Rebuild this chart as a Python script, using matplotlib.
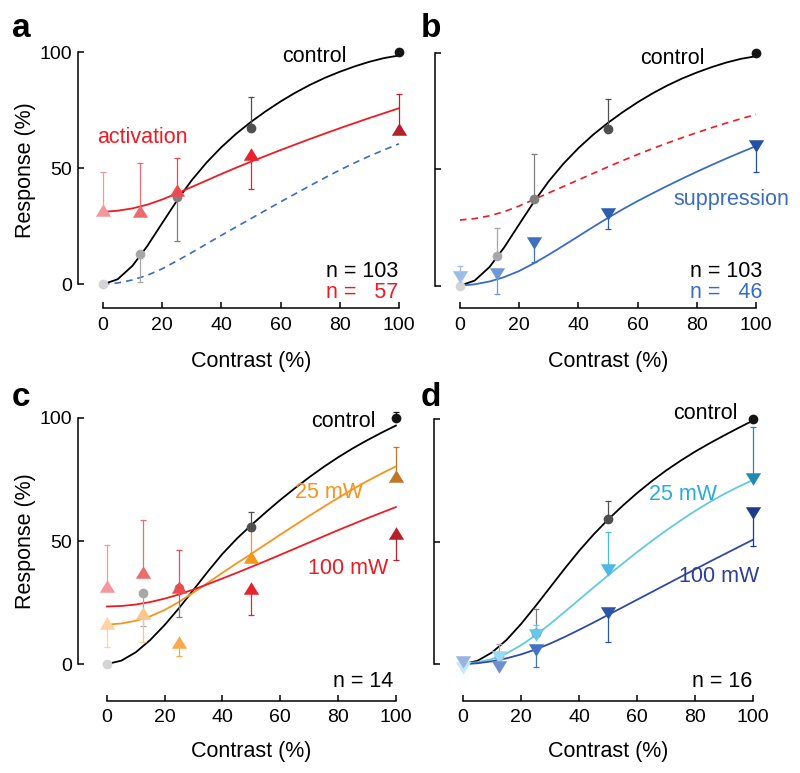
import matplotlib
matplotlib.use('Agg')
import matplotlib.pyplot as plt

plt.rcParams['font.family'] = ['Liberation Sans', 'DejaVu Sans']

W, H = 800, 773

# stimulus contrasts of the measured points
contrast = [0, 12.5, 25, 50, 100]
fit_x = [0, 5, 10, 15, 20, 25, 30, 35, 40, 45, 50, 55, 60, 65, 70, 75, 80, 85, 90, 95, 100]

# ---- panel a ----
a_ctrl = [0, 13, 37.4, 67.5, 100]
a_ctrl_end = [0, 1, 18.7, 80.7, 100]      # error bar ends
a_act = [32, 31.6, 40.5, 56, 67]
a_act_end = [48.4, 52.4, 54.6, 41.2, 82]
ctrl_fit_ab = [0, 2.2, 8, 16.5, 26.3, 36, 44.8, 52.4, 59, 64.8, 69.9, 74.5, 78.7, 82.5, 85.9, 88.9,
               91.5, 93.8, 95.8, 97.4, 98.5]
act_fit_a = [31.2, 31.7, 32.7, 34.3, 36.5, 39.1, 41.9, 44.7, 47.5, 50.2, 52.8, 55.3, 57.8, 60.2, 62.6,
             64.9, 67.2, 69.4, 71.6, 73.7, 75.8]
sup_fit_a = [0, 0.6, 1.9, 3.9, 6.7, 10.1, 13.7, 17.4, 21.1, 24.7, 28.3, 31.9, 35.5, 39, 42.5, 45.9,
             49.2, 52.3, 55.2, 57.9, 60.5]

# ---- panel b ----
b_ctrl = [0, 12.7, 37.2, 67.1, 100]
b_ctrl_end = [0, 24.6, 56.5, 80.3, 100]
b_sup = [3.6, 5, 18.5, 30.8, 60]
b_sup_end = [8.6, -3.7, 10.3, 24.2, 48.6]
act_fit_b = [28.2, 28.8, 30, 31.8, 34.2, 37, 39.8, 42.6, 45.4, 48.2, 51, 53.7, 56.3, 58.8, 61.2, 63.5,
             65.7, 67.8, 69.8, 71.7, 73.5]
sup_fit_b = [0, 0.6, 1.8, 3.7, 6.3, 9.6, 13.3, 17.2, 21.2, 25.2, 29.1, 32.8, 36.3, 39.6, 42.8, 45.9,
             48.9, 51.8, 54.6, 57.3, 59.9]

# ---- panel c ----
c_ctrl = [0, 28.9, 31, 55.7, 100]
c_ctrl_end = [0, 15.6, 19, 61.7, 102.5]
c_25 = [16.8, 20.7, 9, 43.4, 76.6]
c_25_end = [6.9, 9, 3.3, 54, 88]
c_100 = [31.6, 37.3, 31.3, 30.9, 53.3]
c_100_end = [48.2, 58.7, 46.5, 19.8, 42.4]
ctrl_fit_c = [0, 1.4, 4.8, 9.8, 15.9, 22.8, 30.2, 37.7, 44.8, 51, 56.5, 61.7, 66.7, 71.4, 75.9, 80.1,
              84, 87.6, 90.9, 94, 96.9]
p25_fit_c = [16, 16.5, 17.6, 19.4, 22, 25.3, 29.1, 33.1, 37.1, 41, 44.8, 48.7, 52.6, 56.4, 60.2, 63.9,
             67.5, 71, 74.3, 77.4, 80.3]
p100_fit_c = [23.4, 23.6, 24.2, 25.2, 26.6, 28.3, 30.3, 32.5, 34.8, 37.1, 39.5, 41.9, 44.4, 46.9, 49.4,
              51.9, 54.4, 56.8, 59.2, 61.5, 63.8]

# ---- panel d ----
d_ctrl = [0, 3.5, 12.7, 59.3, 100]
d_ctrl_end = [0, 8.2, 22.4, 66.4, 100]
d_25 = [-1.5, 3, 11.8, 38.5, 75.5]
d_25_end = [-1.5, 3, 16, 54.1, 96.7]
d_100 = [1, -1, 5.7, 20.8, 61.6]
d_100_end = [1, -1, -1, 9, 48.4]
ctrl_fit_d = [0, 1.4, 4.8, 9.9, 16.4, 23.7, 31.3, 38.9, 46.2, 52.9, 59, 64.6, 69.8, 74.6, 79, 83, 86.7,
              90.1, 93.3, 96.4, 99.4]
p25_fit_d = [0.3, 0.8, 2.1, 4.4, 7.7, 11.8, 16.4, 21.3, 26.3, 31.3, 36.2, 41, 45.7, 50.2, 54.5, 58.6,
             62.5, 66.1, 69.4, 72.4, 75.1]
p100_fit_d = [0, 0.4, 1.2, 2.4, 4, 6, 8.4, 11.1, 14, 17, 20.1, 23.2, 26.3, 29.4, 32.5, 35.6, 38.7,
              41.8, 44.8, 47.8, 50.8]

# point colours, light -> dark with contrast
grays = ['#d4d4d4', '#a7a7a7', '#808080', '#4f4f4f', '#141414']
reds = ['#f4989b', '#ee6b6f', '#ef4a4f', '#e8222a', '#b5202a']
oranges = ['#fdd3a4', '#fcc58b', '#f9a94a', '#f7941d', '#c0762a']
blues = ['#9dbce6', '#6f98d4', '#3f70c0', '#2d5eb0', '#2150a4']
cyans = ['#c3ecfa', '#97dbf3', '#66c7ed', '#4cb8e6', '#1f8bb4']
dblues = ['#9bb3e0', '#6d8fd0', '#4572c0', '#2a55a8', '#1d3a8c']

RED = '#ed1c24'
BLUE = '#3a6cc4'
ORANGE = '#f7941d'

up_tri = [(-1, -0.82), (1, -0.82), (0, 0.82)]
down_tri = [(-1, 0.82), (1, 0.82), (0, -0.82)]

fig = plt.figure(figsize=(8, 7.73), dpi=100)


def make_ax(left, bottom, width, height, xlim, ylim, ylabels):
    ax = fig.add_axes([left / W, 1 - bottom / H, width / W, height / H])
    ax.set_xlim(*xlim)
    ax.set_ylim(*ylim)
    ax.patch.set_visible(False)
    ax.spines['top'].set_visible(False)
    ax.spines['right'].set_visible(False)
    ax.spines['left'].set_bounds(0, 100)
    ax.spines['bottom'].set_bounds(0, 100)
    ax.spines['left'].set_linewidth(1.1)
    ax.spines['bottom'].set_linewidth(1.1)
    ax.set_xticks([0, 20, 40, 60, 80, 100])
    ax.set_yticks([0, 50, 100])
    ax.tick_params(direction='in', length=4, width=1.1, labelsize=14, pad=4.5)
    ax.tick_params(axis='x', pad=6)
    if not ylabels:
        ax.set_yticklabels([])
    return ax


def points(ax, ys, ends, colors, marker, ms):
    for x, y, e, c in zip(contrast, ys, ends, colors):
        if e != y:
            ax.plot([x, x], [y, e], color=c, lw=0.9, zorder=3, clip_on=False)
            ax.plot([x], [e], marker='_', ms=4.5, mew=0.9, color=c, zorder=3, clip_on=False)
        ax.plot([x], [y], marker=marker, ms=ms, color=c, mew=0, zorder=4, clip_on=False)


def curve(ax, ys, color, ls='-', lw=1.3):
    ax.plot(fit_x, ys, color=color, ls=ls, lw=lw, zorder=2, clip_on=False)


ax_a = make_ax(78, 308.3, 325.4, 258.6, (-8.4, 101.5), (-10.3, 101), True)
ax_b = make_ax(435, 308.3, 325.4, 257.9, (-8.4, 101.5), (-9.7, 101), False)
ax_c = make_ax(78, 701, 322.2, 285.5, (-10, 101.5), (-15, 101), True)
ax_d = make_ax(434, 701, 323.4, 284.4, (-10, 101.5), (-15, 101), False)

TRI = 11

# panel a
curve(ax_a, ctrl_fit_ab, 'black')
curve(ax_a, act_fit_a, RED)
curve(ax_a, sup_fit_a, BLUE, ls=(0, (4, 3)), lw=1.2)
points(ax_a, a_ctrl, a_ctrl_end, grays, 'o', 7)
points(ax_a, a_act, a_act_end, reds, up_tri, TRI)
ax_a.text(82.4, 95.6, 'control', fontsize=15.5, ha='right', va='baseline')
ax_a.text(-2, 61, 'activation', fontsize=15.5, color=RED, va='baseline')
ax_a.text(99.7, 3.0, 'n = 103', fontsize=15.5, ha='right', va='baseline')
ax_a.text(99.7, -6.0, 'n =   57', fontsize=15.5, ha='right', va='baseline', color=RED)

# panel b
curve(ax_b, ctrl_fit_ab, 'black')
curve(ax_b, act_fit_b, RED, ls=(0, (4, 3)), lw=1.2)
curve(ax_b, sup_fit_b, BLUE)
points(ax_b, b_ctrl, b_ctrl_end, grays, 'o', 7)
points(ax_b, b_sup, b_sup_end, blues, down_tri, TRI)
ax_b.text(82.8, 95.0, 'control', fontsize=15.5, ha='right', va='baseline')
ax_b.text(72, 34.6, 'suppression', fontsize=15.5, color=BLUE, va='baseline')
ax_b.text(102.2, 3.7, 'n = 103', fontsize=15.5, ha='right', va='baseline')
ax_b.text(102.2, -5.3, 'n =   46', fontsize=15.5, ha='right', va='baseline', color=BLUE)

# panel c
curve(ax_c, ctrl_fit_c, 'black')
curve(ax_c, p25_fit_c, ORANGE)
curve(ax_c, p100_fit_c, RED)
points(ax_c, c_ctrl, c_ctrl_end, grays, 'o', 7)
points(ax_c, c_25, c_25_end, oranges, up_tri, TRI)
points(ax_c, c_100, c_100_end, reds, up_tri, TRI)
ax_c.text(93.1, 96.2, 'control', fontsize=15.5, ha='right', va='baseline')
ax_c.text(65, 67.4, '25 mW', fontsize=15.5, color=ORANGE, va='baseline')
ax_c.text(69.6, 36.6, '100 mW', fontsize=15.5, color=RED, va='baseline')
ax_c.text(99, -9.2, 'n = 14', fontsize=15.5, ha='right', va='baseline')

# panel d
curve(ax_d, ctrl_fit_d, 'black')
curve(ax_d, p25_fit_d, '#62c9df')
curve(ax_d, p100_fit_d, '#2e4aa6')
points(ax_d, d_ctrl, d_ctrl_end, grays, 'o', 7)
points(ax_d, d_25, d_25_end, cyans, down_tri, TRI)
points(ax_d, d_100, d_100_end, dblues, down_tri, TRI)
ax_d.text(94.8, 100, 'control', fontsize=15.5, ha='right', va='baseline')
ax_d.text(64.1, 66.9, '25 mW', fontsize=15.5, color='#29abe2', va='baseline')
ax_d.text(74.5, 33.6, '100 mW', fontsize=15.5, color='#2e3f98', va='baseline')
ax_d.text(99.7, -9.3, 'n = 16', fontsize=15.5, ha='right', va='baseline')

# axis labels and panel letters in figure pixels
for xc, yc in [(251, 361), (608, 361), (251.5, 751), (608, 751)]:
    fig.text(xc / W, 1 - yc / H, 'Contrast (%)', fontsize=15.5, ha='center', va='center')
for yc in [170, 541.5]:
    fig.text(26 / W, 1 - yc / H, 'Response (%)', fontsize=15.5, ha='center', va='center', rotation=90)
for lab, xl, yl in [('a', 12, 37), ('b', 421, 37), ('c', 12, 406), ('d', 421, 406)]:
    fig.text(xl / W, 1 - yl / H, lab, fontsize=24, fontweight='bold', va='baseline')

fig.savefig('out.png', dpi=100)
